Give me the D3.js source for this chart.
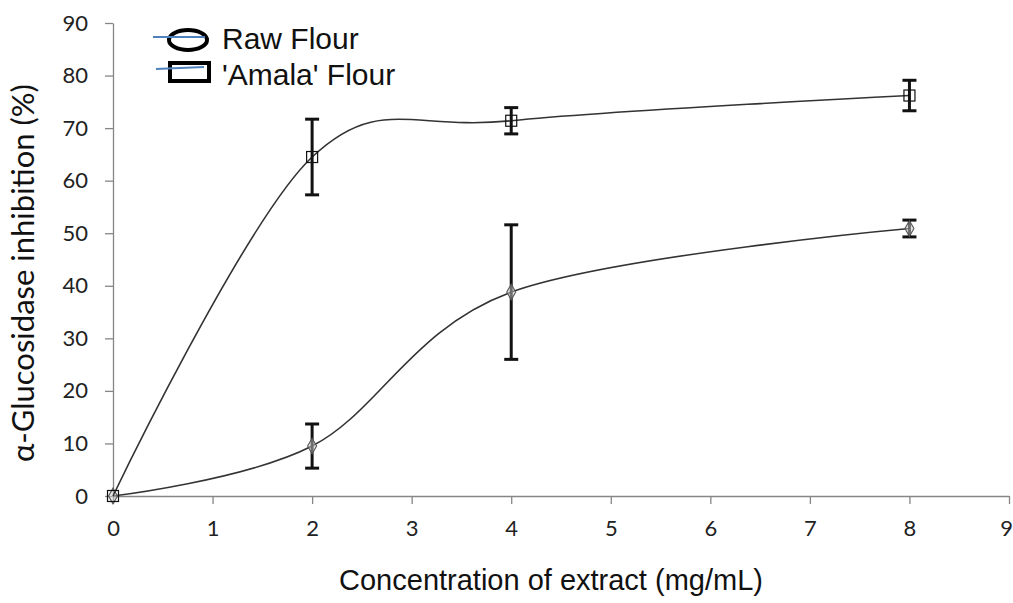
<!DOCTYPE html>
<html><head><meta charset="utf-8">
<script src="https://cdn.jsdelivr.net/npm/d3@7"></script>
<style>body{margin:0;background:#fff}svg{display:block}</style>
</head><body><svg id="c" width="1013" height="603"></svg>
<script>
const concentrations = [0, 2, 4, 8];
const rawValues = [0, 9.5, 38.8, 50.9];
const rawErrors = [0, 4.2, 12.8, 1.6];
const amalaValues = [0, 64.5, 71.4, 76.2];
const amalaErrors = [0, 7.2, 2.5, 2.9];
const xTicks = [0,1,2,3,4,5,6,7,8,9];
const yTicks = [0,10,20,30,40,50,60,70,80,90];
const seriesNames = ["Raw Flour", "'Amala' Flour"];

const svg = d3.select("#c");
const x = d3.scaleLinear().domain([0,9]).range([113,1009]);
const y = d3.scaleLinear().domain([0,90]).range([496,23]);
const axisColor = "#868686";
const tickFont = "Lato, 'Open Sans', sans-serif";

const yAxis = svg.append("g").attr("transform","translate(113,0)")
  .call(d3.axisLeft(y).tickValues(yTicks).tickSize(8).tickSizeOuter(0).tickPadding(17));
const xAxis = svg.append("g").attr("transform","translate(0,496)")
  .call(d3.axisBottom(x).tickValues(xTicks).tickSize(8).tickSizeOuter(0).tickPadding(16));
[yAxis,xAxis].forEach(g=>{
  g.selectAll("path,line").attr("stroke",axisColor).attr("stroke-width",1.3);
  g.selectAll("text").attr("fill","#222").style("font-family",tickFont).style("font-size","22px");
});
xAxis.selectAll(".tick text").filter(d=>d===9).attr("dx","-3");

// titles
svg.append("text").attr("x",551).attr("y",590).attr("text-anchor","middle")
  .style("font-family","'Liberation Sans', Arial, sans-serif").style("font-size","29px").attr("fill","#111")
  .text("Concentration of extract (mg/mL)");
svg.append("text").attr("transform","translate(34,273) rotate(-90)").attr("text-anchor","middle")
  .style("font-family",tickFont).style("font-size","31px").attr("fill","#111")
  .text("α-Glucosidase inhibition (%)");

const line = d3.line().x(d=>x(d[0])).y(d=>y(d[1])).curve(d3.curveCardinal.tension(0));
function series(vals, errs, marker){
  const pts = concentrations.map((c,i)=>[c, vals[i], errs[i]]);
  svg.append("path").datum(pts).attr("d",line).attr("fill","none").attr("stroke","#333").attr("stroke-width",1.6);
  const eb = svg.append("g").attr("stroke","#111").attr("stroke-width",3);
  pts.filter(p=>p[2]>0).forEach(p=>{
    const cx=x(p[0]);
    eb.append("line").attr("x1",cx).attr("x2",cx).attr("y1",y(p[1]+p[2])).attr("y2",y(p[1]-p[2]));
    eb.append("line").attr("x1",cx-7).attr("x2",cx+7).attr("y1",y(p[1]+p[2])).attr("y2",y(p[1]+p[2]));
    eb.append("line").attr("x1",cx-7).attr("x2",cx+7).attr("y1",y(p[1]-p[2])).attr("y2",y(p[1]-p[2]));
  });
  const mg = svg.append("g");
  pts.forEach(p=>{
    if(marker==="square"){
      mg.append("rect").attr("x",x(p[0])-5.5).attr("y",y(p[1])-5.5).attr("width",11).attr("height",11)
        .attr("fill","none").attr("stroke","#111").attr("stroke-width",1.2);
    } else {
      mg.append("path").attr("d",d3.symbol(d3.symbolDiamond,70)()).attr("transform",`translate(${x(p[0])},${y(p[1])})`)
        .attr("fill","#ccc").attr("fill-opacity",0.5).attr("stroke","#555").attr("stroke-width",1.1);
    }
  });
}
series(rawValues, rawErrors, "diamond");
series(amalaValues, amalaErrors, "square");

// legend
const lg = svg.append("g");
lg.append("ellipse").attr("cx",188).attr("cy",40).attr("rx",19).attr("ry",10).attr("fill","none").attr("stroke","#000").attr("stroke-width",4);
lg.append("line").attr("x1",153).attr("x2",205).attr("y1",37).attr("y2",37).attr("stroke","#4f81bd").attr("stroke-width",2);
lg.append("rect").attr("x",170).attr("y",63).attr("width",39).attr("height",18).attr("fill","none").attr("stroke","#000").attr("stroke-width",4);
lg.append("line").attr("x1",156).attr("x2",204).attr("y1",69).attr("y2",67).attr("stroke","#4f81bd").attr("stroke-width",2);
lg.selectAll("text.l").data(seriesNames).enter().append("text")
  .attr("x",222).attr("y",(d,i)=>49+i*36)
  .style("font-family","'Liberation Sans', Arial, sans-serif").style("font-size","30px").attr("fill","#111")
  .text(d=>d);
</script></body></html>
